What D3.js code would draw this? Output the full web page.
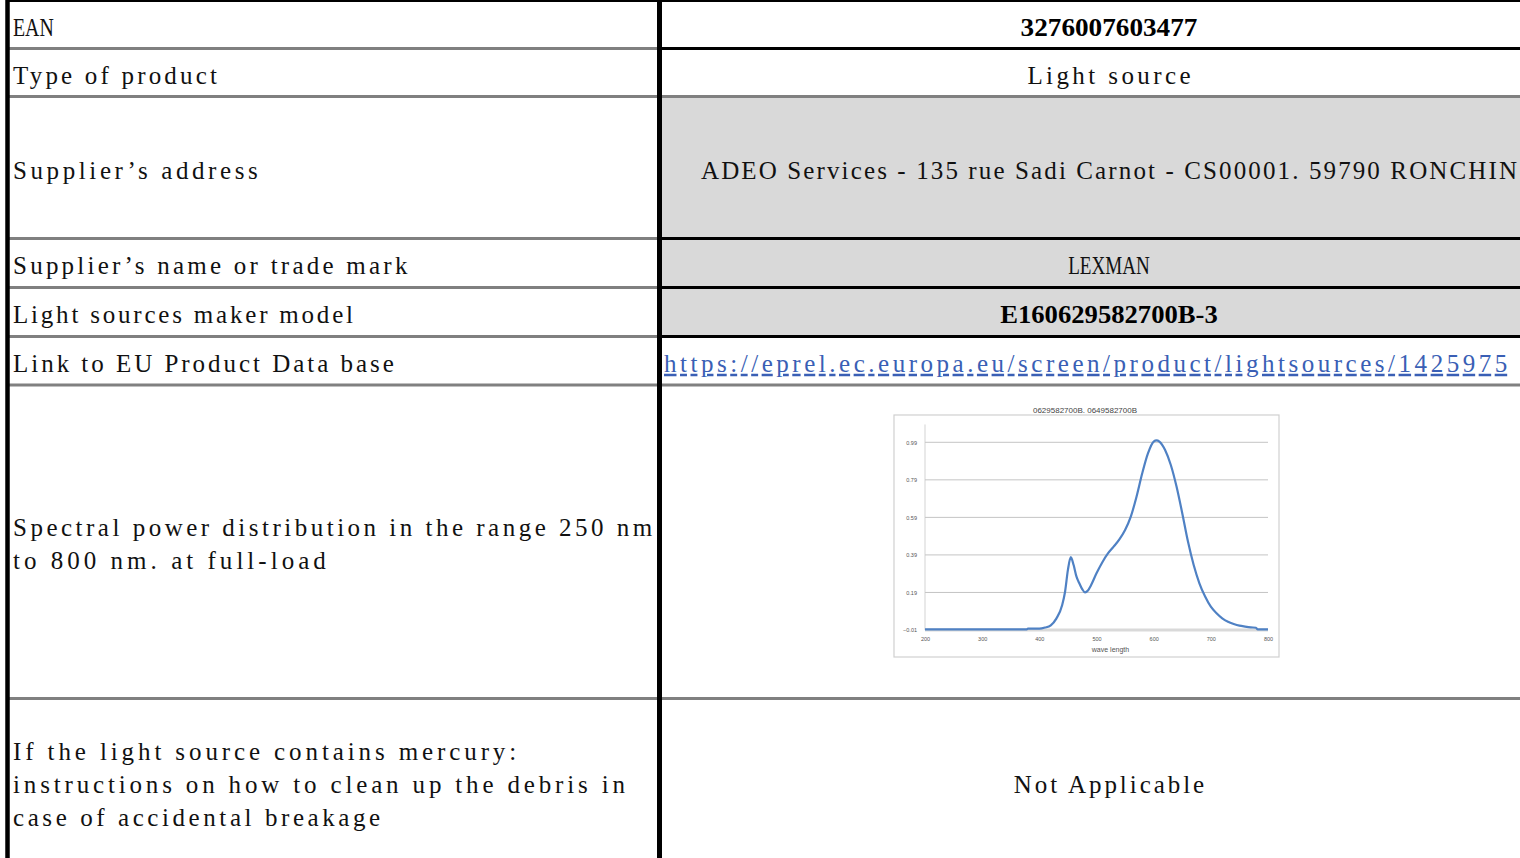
<!DOCTYPE html>
<html>
<head>
<meta charset="utf-8">
<script src="https://cdn.jsdelivr.net/npm/d3@7"></script>
<style>
  html, body { margin: 0; padding: 0; background: #ffffff; }
  svg { display: block; }
</style>
</head>
<body>
<div id="chart"></div>
<script>
// ---------------- DATA ----------------
const rowLabels = [
  ["EAN"],
  ["Type of product"],
  ["Supplier\u2019s address"],
  ["Supplier\u2019s name or trade mark"],
  ["Light sources maker model"],
  ["Link to EU Product Data base"],
  ["Spectral power distribution in the range 250 nm", "to 800 nm. at full-load"],
  ["If the light source contains mercury:", "instructions on how to clean up the debris in", "case of accidental breakage"]
];
const rowValues = [
  "3276007603477",
  "Light source",
  "ADEO Services - 135 rue Sadi Carnot - CS00001. 59790 RONCHIN",
  "LEXMAN",
  "E160629582700B-3",
  "https://eprel.ec.europa.eu/screen/product/lightsources/1425975",
  "",
  "Not Applicable"
];
const chartTitle = "0629582700B. 0649582700B";
const xAxisTitle = "wave length";
const xTicks = [200, 300, 400, 500, 600, 700, 800];
const yTicks = [-0.01, 0.19, 0.39, 0.59, 0.79, 0.99];

const wavelengths = [200, 250, 300, 350, 378, 380, 400, 410, 420, 430, 440, 445, 450, 455, 460, 465, 470, 475, 480, 485, 490, 500, 510, 520, 530, 540, 550, 560, 570, 580, 590, 600, 605, 610, 620, 630, 640, 650, 660, 670, 680, 690, 700, 710, 720, 730, 740, 750, 760, 770, 779, 782, 790, 800];
const intensity   = [-0.007, -0.007, -0.007, -0.007, -0.007, -0.003, -0.003, 0.003, 0.015, 0.052, 0.123, 0.194, 0.31, 0.378, 0.336, 0.274, 0.239, 0.208, 0.19, 0.2, 0.226, 0.292, 0.35, 0.398, 0.434, 0.473, 0.523, 0.594, 0.70, 0.825, 0.931, 0.994, 1.0, 0.994, 0.949, 0.869, 0.754, 0.612, 0.461, 0.336, 0.239, 0.168, 0.114, 0.079, 0.052, 0.034, 0.022, 0.013, 0.008, 0.004, 0.002, -0.007, -0.007, -0.007];

// ---------------- LAYOUT ----------------
const W = 1520, H = 858;
const rowEdges = [1, 48.5, 96.5, 238.5, 287.5, 336.5, 385, 698.5, 865];
const leftLineColors  = ["#000", "#808080", "#808080", "#808080", "#808080", "#808080", "#808080", "#808080"];
const rightLineColors = ["#000", "#000", "#808080", "#000", "#000", "#000", "#808080", "#808080"];
const grayRows = [2, 3, 4];
const colLeftX = 10, dividerX = 659.5, rightEnd = 1520;
const valueCenterX = 1109;
const charW = 13.6;
const lineGap = 33;

const svg = d3.select("#chart").append("svg")
  .attr("width", W).attr("height", H)
  .attr("viewBox", `0 0 ${W} ${H}`);

svg.append("rect").attr("width", W).attr("height", H).attr("fill", "#fff");

// gray cell fills
svg.selectAll("rect.fill").data(grayRows).join("rect")
  .attr("class", "fill")
  .attr("x", dividerX).attr("y", i => rowEdges[i])
  .attr("width", rightEnd - dividerX).attr("height", i => rowEdges[i + 1] - rowEdges[i])
  .attr("fill", "#d9d9d9");

// horizontal lines
const hLines = rowEdges.slice(0, 8).map((y, i) => ({ y, i }));
svg.selectAll("line.hl").data(hLines).join("line")
  .attr("x1", colLeftX - 4).attr("x2", dividerX)
  .attr("y1", d => d.y).attr("y2", d => d.y)
  .attr("stroke", d => leftLineColors[d.i]).attr("stroke-width", d => d.i === 0 ? 2 : 3);
svg.selectAll("line.hr").data(hLines).join("line")
  .attr("x1", dividerX).attr("x2", rightEnd)
  .attr("y1", d => d.y).attr("y2", d => d.y)
  .attr("stroke", d => rightLineColors[d.i]).attr("stroke-width", d => d.i === 0 ? 2 : 3);

// vertical borders
svg.append("line").attr("x1", 7.5).attr("x2", 7.5).attr("y1", 0).attr("y2", H)
  .attr("stroke", "#000").attr("stroke-width", 4.5);
svg.append("line").attr("x1", dividerX).attr("x2", dividerX).attr("y1", 0).attr("y2", H)
  .attr("stroke", "#000").attr("stroke-width", 5);

const FONT = "'Liberation Serif', 'DejaVu Serif', serif";
const FS = 25;

function addText(sel, str, x, y, anchor, opts = {}) {
  const t = sel.append("text")
    .attr("x", x).attr("y", y)
    .attr("text-anchor", anchor)
    .attr("font-family", FONT)
    .attr("font-size", opts.size || FS)
    .attr("font-weight", opts.weight || "normal")
    .attr("fill", opts.fill || "#111")
    .attr("textLength", str.length * charW)
    .attr("lengthAdjust", opts.adjust || "spacing")
    .text(str);
  if (opts.underline) t.attr("text-decoration", "underline");
  return t;
}

// left labels
rowLabels.forEach((lines, i) => {
  const c = (rowEdges[i] + rowEdges[i + 1]) / 2 + 2.5;
  const n = lines.length;
  lines.forEach((s, k) => {
    const yc = c + (k - (n - 1) / 2) * lineGap;
    addText(svg, s, 13, yc + 8.5, "start", i === 0 ? { adjust: "spacingAndGlyphs" } : {});
  });
});

// right values
rowValues.forEach((s, i) => {
  if (!s) return;
  const c = (rowEdges[i] + rowEdges[i + 1]) / 2 + 2.5;
  if (i === 5) {
    addText(svg, s, 664, c + 8.5, "start", { fill: "#3a5fb5", underline: true });
  } else if (i === 0 || i === 4) {
    addText(svg, s, valueCenterX, c + 8.5, "middle", { weight: "bold", fill: "#000", adjust: "spacingAndGlyphs" });
  } else if (i === 3) {
    addText(svg, s, valueCenterX, c + 8.5, "middle", { adjust: "spacingAndGlyphs" });
  } else {
    addText(svg, s, valueCenterX, c + 8.5, "middle");
  }
});

// ---------------- SPECTRUM CHART ----------------
const g = svg.append("g");
const frame = { x: 894, y: 415, w: 385, h: 242 };
g.append("rect").attr("x", frame.x).attr("y", frame.y).attr("width", frame.w).attr("height", frame.h)
  .attr("fill", "#fff").attr("stroke", "#d0d0d0").attr("stroke-width", 1.2);

const x = d3.scaleLinear().domain([200, 800]).range([925, 1268]);
const y = d3.scaleLinear().domain([-0.01, 0.99]).range([630, 442.3]);
const yTop = y(1.085);

// gridlines
g.selectAll("line.grid").data(yTicks.slice(1)).join("line")
  .attr("x1", x(200)).attr("x2", x(800))
  .attr("y1", d => y(d)).attr("y2", d => y(d))
  .attr("stroke", "#bdbdbd").attr("stroke-width", 0.9);

// y axis line
g.append("line").attr("x1", x(200)).attr("x2", x(200)).attr("y1", yTop).attr("y2", y(-0.01))
  .attr("stroke", "#c8c8c8").attr("stroke-width", 0.8);
// x axis band
g.append("line").attr("x1", x(200)).attr("x2", x(800)).attr("y1", y(-0.01)).attr("y2", y(-0.01))
  .attr("stroke", "#d9d9d9").attr("stroke-width", 3);

const SANS = "'Liberation Sans', Arial, sans-serif";
// y tick labels
const yAxis = d3.axisLeft(y).tickValues(yTicks).tickSize(0).tickPadding(8)
  .tickFormat(d => d3.format(".2f")(d));
const ya = g.append("g").attr("transform", `translate(${x(200)},0)`).call(yAxis);
ya.select(".domain").remove();
ya.selectAll("text").attr("font-family", SANS).attr("font-size", 5.5).attr("fill", "#555");

// x tick labels
const xAxis = d3.axisBottom(x).tickValues(xTicks).tickSize(0).tickPadding(7);
const xa = g.append("g").attr("transform", `translate(0,${y(-0.01)})`).call(xAxis);
xa.select(".domain").remove();
xa.selectAll("text").attr("font-family", SANS).attr("font-size", 5.5).attr("fill", "#555");

// axis title
g.append("text").attr("x", (x(200) + x(800)) / 2 + 14).attr("y", 651.5)
  .attr("text-anchor", "middle").attr("font-family", SANS)
  .attr("font-size", 7).attr("fill", "#555").text(xAxisTitle);

// chart title
g.append("text").attr("x", 1085).attr("y", 413)
  .attr("text-anchor", "middle").attr("font-family", SANS)
  .attr("font-size", 8).attr("fill", "#444").text(chartTitle);

// spectrum line
const pts = wavelengths.map((w, i) => [w, intensity[i]]);
const line = d3.line().x(d => x(d[0])).y(d => y(d[1])).curve(d3.curveMonotoneX);
g.append("path").datum(pts).attr("d", line)
  .attr("fill", "none").attr("stroke", "#4f81c4").attr("stroke-width", 2.2)
  .attr("stroke-linejoin", "round");
</script>
</body>
</html>
